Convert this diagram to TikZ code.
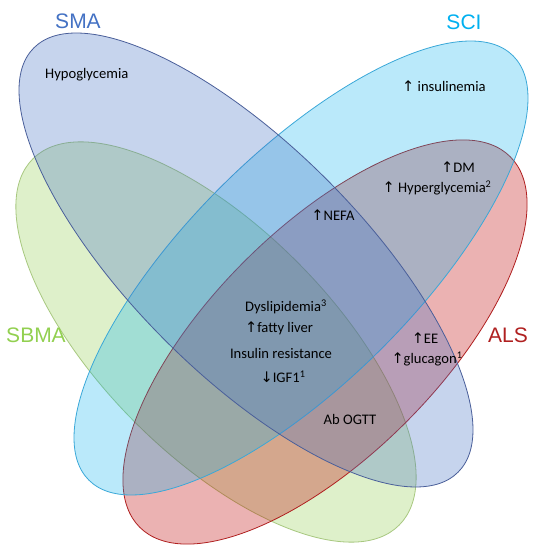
\documentclass[tikz,border=0pt]{standalone}
\usepackage{fontspec}
\setmainfont{Carlito}
\newfontfamily\labfont{Liberation Sans}
\newfontfamily\arrfont{DejaVu Sans}
\newcommand{\up}{{\arrfont\char"2191}}
\newcommand{\down}{{\arrfont\char"2193}}
\definecolor{smac}{HTML}{4472C4}
\definecolor{smab}{HTML}{4A5F9A}
\definecolor{scic}{HTML}{00B0F0}
\definecolor{scib}{HTML}{3AA8D8}
\definecolor{sbmac}{HTML}{92D050}
\definecolor{sbmab}{HTML}{A8C880}
\definecolor{alsc}{HTML}{C00000}
\definecolor{alsb}{HTML}{B02020}
\begin{document}
\begin{tikzpicture}[x=1pt,y=1pt,
  venn/.style={fill opacity=0.3, line width=0.8pt},
  txt/.style={font=\fontsize{14.6}{17}\selectfont, text=black, inner sep=0pt},
  setlab/.style={font=\labfont\fontsize{21}{24}\selectfont, inner sep=0pt}]
\useasboundingbox (0,0) rectangle (537,550);
\fill[white] (0,0) rectangle (537,550);
% SBMA
\draw[venn, fill=sbmac, draw=sbmab, rotate around={-45:(216,208)}] (216,208) ellipse [x radius=259, y radius=114];
% ALS
\draw[venn, fill=alsc, draw=alsb, rotate around={45:(325,208)}] (325,208) ellipse [x radius=262, y radius=114];
% SCI
\draw[venn, fill=scic, draw=scib, fill opacity=0.27, rotate around={45:(301,282)}] (301,282) ellipse [x radius=300, y radius=114];
% SMA
\draw[venn, fill=smac, draw=smab, rotate around={-45:(246,290)}] (246,290) ellipse [x radius=300, y radius=114];
% set labels
\node[setlab, text=smac] (lsma) at (78,529) {SMA};
\node[setlab, text=scic] (lsci) at (464,528) {SCI};
\node[setlab, text=sbmac] (lsbma) at (36,215) {SBMA};
\node[setlab, text=alsb] (lals) at (508,215) {ALS};
% texts
\node[txt, anchor=west] (hypo) at (45,475) {Hypoglycemia};
\node[txt, anchor=west] (insu) at (402,464) {\up\ insulinemia};
\node[txt] (dm) at (458,383) {\up DM};
\node[txt] (hyper) at (437,362) {\up\ Hyperglycemia\textsuperscript{2}};
\node[txt] (nefa) at (333,335) {\up NEFA};
\node[txt] (dys) at (286,243) {Dyslipidemia\textsuperscript{3}};
\node[txt] (fat) at (279,222) {\up fatty liver};
\node[txt] (ins) at (281,197) {Insulin resistance};
\node[txt] (igf) at (283,173) {\down IGF1\textsuperscript{1}};
\node[txt] (ee) at (425,212) {\up EE};
\node[txt] (glu) at (427,191) {\up glucagon\textsuperscript{1}};
\node[txt] (ogtt) at (350,131) {Ab OGTT};
\end{tikzpicture}
\end{document}
